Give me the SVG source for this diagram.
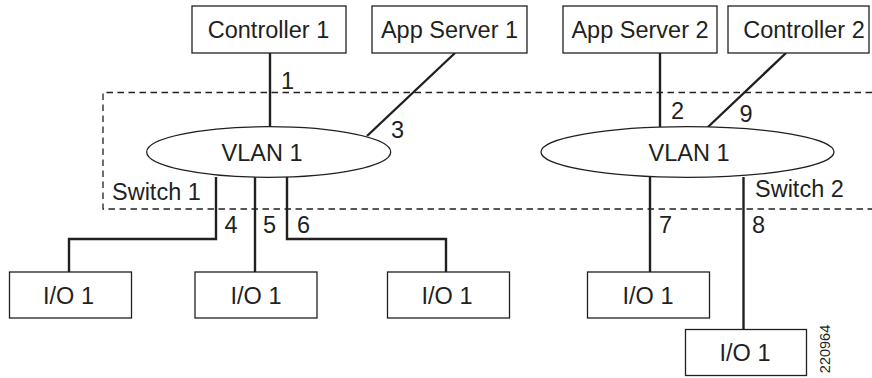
<svg xmlns="http://www.w3.org/2000/svg" width="872" height="378" viewBox="0 0 872 378">
<style>
  .box{fill:#fff;stroke:#231f20;stroke-width:1.3}
  .ell{fill:#fff;stroke:#231f20;stroke-width:1.3}
  .lbl{font-family:"Liberation Sans",Arial,sans-serif;font-size:23.5px;fill:#231f20}
  .mid{text-anchor:middle}
  .wire{fill:none;stroke:#231f20;stroke-width:2.4}
  .dash{fill:none;stroke:#231f20;stroke-width:1.3;stroke-dasharray:6.5 4.5}
</style>
<rect width="872" height="378" fill="#fff"/>
<g id="switch-area">
  <path class="dash" d="M872,92.5 H103 V209 H872"/>
  <text class="lbl" x="112" y="200">Switch 1</text>
  <text class="lbl" x="755" y="197">Switch 2</text>
</g>
<g id="connectors">
  <line class="wire" x1="270" y1="53" x2="270" y2="127"/>
  <line class="wire" x1="455" y1="53" x2="367" y2="136"/>
  <line class="wire" x1="660" y1="53" x2="660" y2="127"/>
  <line class="wire" x1="786" y1="53" x2="708" y2="127"/>
  <polyline class="wire" points="216,177 216,239 69,239 69,272"/>
  <line class="wire" x1="255" y1="177" x2="255" y2="272"/>
  <polyline class="wire" points="287,177 287,239 446,239 446,272"/>
  <line class="wire" x1="650" y1="177" x2="650" y2="272"/>
  <line class="wire" x1="743.5" y1="177" x2="743.5" y2="329.5"/>
  <text class="lbl" x="281" y="88.5">1</text>
  <text class="lbl" x="671" y="118.5">2</text>
  <text class="lbl" x="391" y="137.5">3</text>
  <text class="lbl" x="739.5" y="122">9</text>
  <text class="lbl" x="224.5" y="233">4</text>
  <text class="lbl" x="263" y="233">5</text>
  <text class="lbl" x="297" y="233">6</text>
  <text class="lbl" x="659" y="233">7</text>
  <text class="lbl" x="752" y="233">8</text>
</g>
<g id="controller1">
  <rect class="box" x="192" y="6" width="154" height="47"/>
  <text class="lbl mid" x="268.5" y="37.5">Controller 1</text>
</g>
<g id="appserver1">
  <rect class="box" x="372" y="6" width="155" height="47"/>
  <text class="lbl mid" x="449.5" y="37.5">App Server 1</text>
</g>
<g id="appserver2">
  <rect class="box" x="563" y="6" width="154" height="47"/>
  <text class="lbl mid" x="640" y="37.5">App Server 2</text>
</g>
<g id="controller2">
  <rect class="box" x="728" y="6" width="141" height="47"/>
  <text class="lbl mid" x="804" y="37.5">Controller 2</text>
</g>
<g id="vlan1-switch1">
  <ellipse class="ell" cx="268.7" cy="152" rx="122" ry="25.3"/>
  <text class="lbl mid" x="262" y="160.5">VLAN 1</text>
</g>
<g id="vlan1-switch2">
  <ellipse class="ell" cx="687.5" cy="152" rx="146.5" ry="25.3"/>
  <text class="lbl mid" x="689" y="160.5">VLAN 1</text>
</g>
<g id="io-a">
  <rect class="box" x="9.5" y="272" width="122" height="46"/>
  <text class="lbl mid" x="68.5" y="303.5">I/O 1</text>
</g>
<g id="io-b">
  <rect class="box" x="195" y="272" width="122" height="46"/>
  <text class="lbl mid" x="256" y="303.5">I/O 1</text>
</g>
<g id="io-c">
  <rect class="box" x="387.5" y="272" width="122" height="46"/>
  <text class="lbl mid" x="447" y="303.5">I/O 1</text>
</g>
<g id="io-d">
  <rect class="box" x="587.5" y="272" width="122" height="46"/>
  <text class="lbl mid" x="648" y="303.5">I/O 1</text>
</g>
<g id="io-e">
  <rect class="box" x="685.5" y="329.5" width="121" height="46"/>
  <text class="lbl mid" x="745" y="361">I/O 1</text>
</g>
<text font-family="'Liberation Sans',Arial,sans-serif" font-size="14.5" fill="#231f20" text-anchor="middle" transform="translate(830,349) rotate(-90)">220964</text>
</svg>
